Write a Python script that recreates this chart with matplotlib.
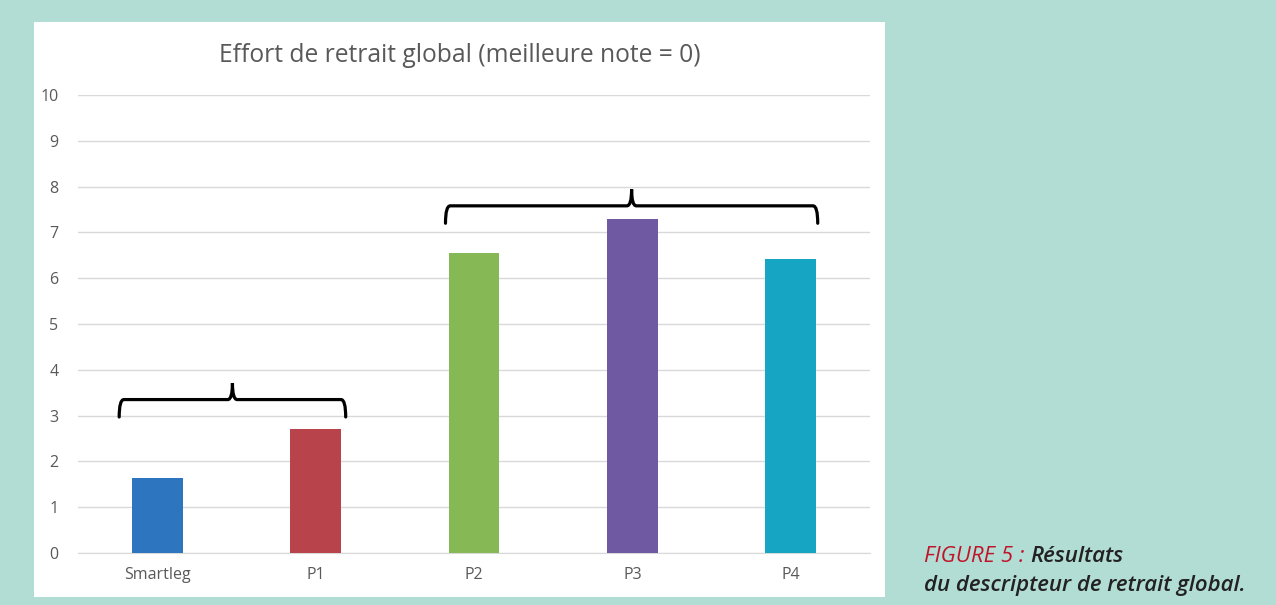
import numpy as np
import matplotlib.pyplot as plt
from matplotlib.path import Path
from matplotlib.patches import PathPatch

categories = ["Smartleg", "P1", "P2", "P3", "P4"]
values = [1.63, 2.71, 6.56, 7.29, 6.43]
bar_colors = ["#2e75c0", "#b9434a", "#86b956", "#7059a3", "#16a6c4"]
yticks = list(range(0, 11))
title = "Effort de retrait global (meilleure note = 0)"

# groups marked by braces: first index, last index
groups = [(0, 1), (2, 4)]
brace_y = [3.35, 7.58]
brace_pad = [(0.24, 0.19), (0.18, 0.17)]

bg = "#b2ddd4"
grey = "#595959"


def brace(ax, x0, x1, y, h=0.36, tip=0.38):
    # curly brace opening downwards, peak in the middle
    xm = (x0 + x1) / 2
    r = 0.03
    verts = [
        (x0, y - tip), (x0, y), (x0 + r, y),
        (xm - r, y), (xm, y), (xm, y + h),
        (xm, y), (xm + r, y),
        (x1 - r, y), (x1, y), (x1, y - tip),
    ]
    codes = [Path.MOVETO, Path.CURVE3, Path.CURVE3,
             Path.LINETO, Path.CURVE3, Path.CURVE3,
             Path.CURVE3, Path.CURVE3,
             Path.LINETO, Path.CURVE3, Path.CURVE3]
    ax.add_patch(PathPatch(Path(verts, codes), fill=False, lw=2.3,
                           edgecolor="black", capstyle="round", zorder=4))


fig = plt.figure(figsize=(12.76, 6.05), dpi=100)
fig.patch.set_facecolor(bg)

W, H = 1276, 605
# white panel behind the chart
panel = fig.add_axes([34 / W, 1 - 597 / H, (885 - 34) / W, (597 - 22) / H])
panel.set_facecolor("white")
panel.set_xticks([])
panel.set_yticks([])
for s in panel.spines.values():
    s.set_visible(False)
panel.set_zorder(0)

ax = fig.add_axes([78 / W, 1 - 553 / H, (870 - 78) / W, (553 - 95) / H])
ax.set_facecolor("none")
ax.set_zorder(1)

x = np.arange(len(categories))
ax.bar(x, values, width=0.32, color=bar_colors, zorder=3)

ax.set_xlim(-0.5, len(categories) - 0.5)
ax.set_ylim(0, 10)
ax.set_yticks(yticks)
ax.set_xticks(x)
ax.set_xticklabels(categories)
ax.grid(axis="y", color="#d9d9d9", lw=1, zorder=0)
for s in ["top", "right", "left"]:
    ax.spines[s].set_visible(False)
ax.spines["bottom"].set_color("#d9d9d9")
ax.tick_params(axis="both", length=0, colors=grey, labelsize=11.5)
ax.tick_params(axis="y", pad=14)
ax.tick_params(axis="x", pad=10)
for lab in ax.get_xticklabels() + ax.get_yticklabels():
    lab.set_fontfamily("Open Sans")

for (a, b), yb, (pl, pr) in zip(groups, brace_y, brace_pad):
    brace(ax, a - pl, b + pr, yb)

fig.text(460 / W, 1 - 55 / H, title, ha="center", va="center",
         fontsize=17.7, color=grey, family="Open Sans")

t1 = fig.text(924 / W, 1 - 557 / H, "FIGURE 5 : ", ha="left", va="center",
              fontsize=16, color="#c0142a", style="italic", family="Open Sans")
plt.annotate("Résultats", xy=(1, 0.5), xycoords=t1, ha="left", va="center",
             fontsize=16, color="#222222", style="italic",
             weight="semibold", family="Open Sans")
fig.text(924 / W, 1 - 586 / H, "du descripteur de retrait global.", ha="left",
         va="center", fontsize=16, color="#222222", style="italic",
         weight="semibold", family="Open Sans")

fig.savefig("out.png", dpi=100, facecolor=bg)
